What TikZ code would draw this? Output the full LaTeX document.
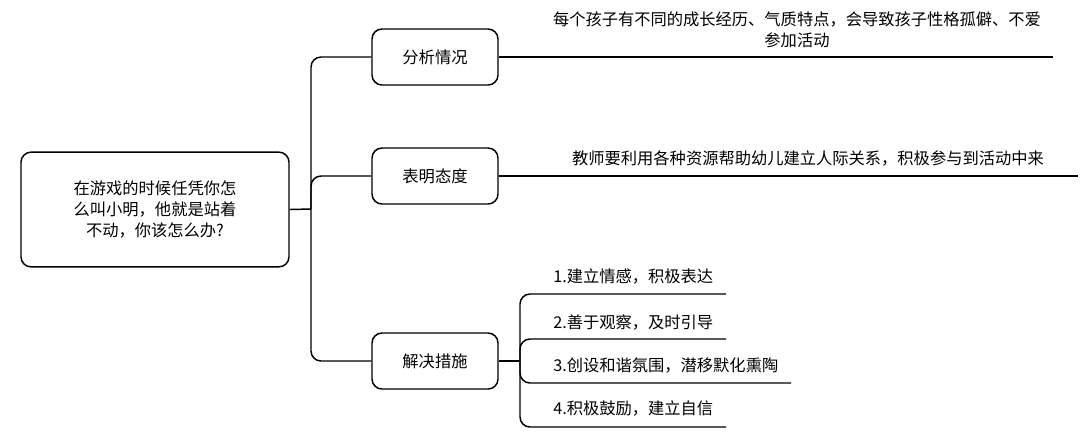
\documentclass[tikz,border=0pt]{standalone}
\usepackage{fontspec}
\setmainfont{Noto Sans CJK SC}
\begin{document}
\begin{tikzpicture}[x=0.75pt,y=-0.75pt,
  every node/.style={font=\fontsize{12.2pt}{16pt}\selectfont, inner sep=0pt},
  box/.style={draw, line width=1.1pt, rounded corners=7.5pt, minimum width=94.5pt, minimum height=42pt},
  conn/.style={line width=1.1pt, rounded corners=7.5pt},
  lbl/.style={align=center}]
\useasboundingbox (0,0) rectangle (1086,444);
\node[box, minimum width=201pt, minimum height=86pt, align=center] (root) at (155,209.5)
  {在游戏的时候任凭你怎\\么叫小明，他就是站着\\不动，你该怎么办?};
\node[box] (b1) at (435,57) {分析情况};
\node[box] (b2) at (435,176) {表明态度};
\node[box] (b3) at (435,361) {解决措施};
\coordinate (trunk) at (311,209);
\draw[conn] (root.east) -- (trunk);
\draw[conn] (trunk) |- (b1.west);
\draw[conn] (trunk) |- (b2.west);
\draw[conn] (trunk) |- (b3.west);
% right of 分析情况
\coordinate (e1) at (1053,57);
\draw[conn] (b1.east) -- (e1);
\node[lbl] (t1) at (797,30) {每个孩子有不同的成长经历、气质特点，会导致孩子性格孤僻、不爱\\参加活动};
% right of 表明态度
\coordinate (e2) at (1078,176);
\draw[conn] (b2.east) -- (e2);
\node[lbl] (t2) at (808,158) {教师要利用各种资源帮助幼儿建立人际关系，积极参与到活动中来};
% 解决措施 items
\coordinate (s) at (520,361);
\draw[conn] (b3.east) -- (s);
\coordinate (i1e) at (726,294);
\coordinate (i2e) at (726,339);
\coordinate (i3e) at (791,383);
\coordinate (i4e) at (726,427);
\draw[conn] (s) |- (i1e);
\draw[conn] (s) |- (i2e);
\draw[conn] (s) |- (i3e);
\draw[conn] (s) |- (i4e);
\node[anchor=west] (i1) at (553,276) {1.建立情感，积极表达};
\node[anchor=west] (i2) at (553,322) {2.善于观察，及时引导};
\node[anchor=west] (i3) at (553,366) {3.创设和谐氛围，潜移默化熏陶};
\node[anchor=west] (i4) at (553,408) {4.积极鼓励，建立自信};
\end{tikzpicture}
\end{document}
